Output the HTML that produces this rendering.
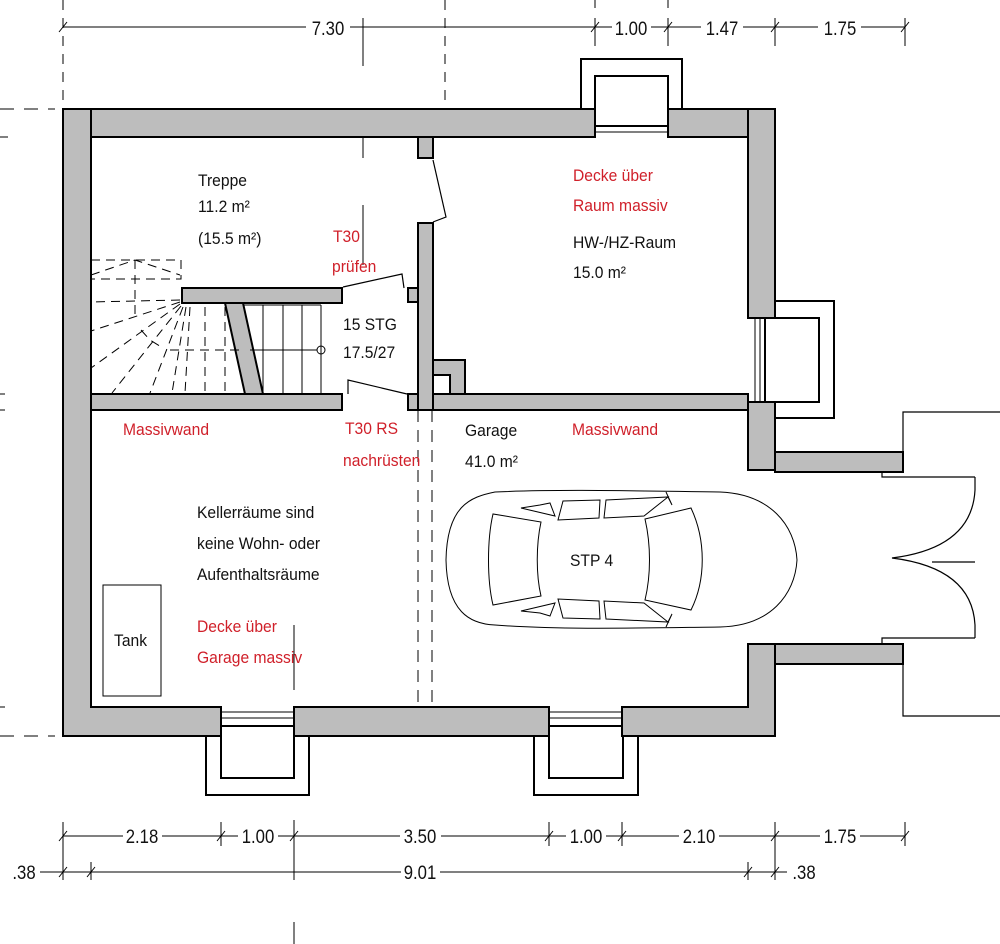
<!DOCTYPE html>
<html><head><meta charset="utf-8"><style>
html,body{margin:0;padding:0;background:#fff;}
svg{display:block;}
text{font-family:"Liberation Sans",sans-serif;font-size:17px;}
.d text{font-size:19px;text-anchor:middle;}
.r{fill:#d0202a;}
.k{fill:#111;}
</style></head><body>
<svg width="1000" height="944" viewBox="0 0 1000 944" xmlns="http://www.w3.org/2000/svg">
<g stroke="#000" stroke-width="1" fill="none">
<line x1="63" y1="0" x2="63" y2="109" stroke-dasharray="10,8"/>
<line x1="445" y1="0" x2="445" y2="109" stroke-dasharray="10,8"/>
<line x1="363" y1="18" x2="363" y2="66"/>
<line x1="363" y1="113" x2="363" y2="158"/>
<line x1="363" y1="205" x2="363" y2="265"/>
<line x1="0" y1="109" x2="55" y2="109" stroke-dasharray="14,10"/>
<line x1="0" y1="736" x2="55" y2="736" stroke-dasharray="14,10"/>
<line x1="0" y1="137" x2="8" y2="137"/>
<line x1="0" y1="394" x2="5" y2="394"/>
<line x1="0" y1="410" x2="5" y2="410"/>
<line x1="0" y1="707" x2="5" y2="707"/>
<line x1="595" y1="0" x2="595" y2="8"/><line x1="668" y1="0" x2="668" y2="8"/>
<line x1="63" y1="27" x2="306" y2="27"/><line x1="350" y1="27" x2="612" y2="27"/>
<line x1="651" y1="27" x2="701" y2="27"/><line x1="743" y1="27" x2="818" y2="27"/><line x1="861" y1="27" x2="905" y2="27"/>
<line x1="595" y1="18" x2="595" y2="46"/><line x1="668" y1="18" x2="668" y2="46"/><line x1="775" y1="18" x2="775" y2="46"/><line x1="905" y1="18" x2="905" y2="46"/>
<line x1="59" y1="32" x2="67" y2="22"/><line x1="591" y1="32" x2="599" y2="22"/><line x1="664" y1="32" x2="672" y2="22"/><line x1="771" y1="32" x2="779" y2="22"/><line x1="901" y1="32" x2="909" y2="22"/>
<line x1="63" y1="836" x2="123" y2="836"/><line x1="162" y1="836" x2="238" y2="836"/><line x1="278" y1="836" x2="400" y2="836"/><line x1="441" y1="836" x2="566" y2="836"/><line x1="606" y1="836" x2="679" y2="836"/><line x1="719" y1="836" x2="820" y2="836"/><line x1="860" y1="836" x2="905" y2="836"/>
<line x1="63" y1="822" x2="63" y2="880"/><line x1="221" y1="822" x2="221" y2="846"/><line x1="294" y1="820" x2="294" y2="880"/><line x1="294" y1="922" x2="294" y2="944"/><line x1="549" y1="822" x2="549" y2="846"/><line x1="622" y1="822" x2="622" y2="846"/><line x1="775" y1="822" x2="775" y2="880"/><line x1="905" y1="822" x2="905" y2="846"/>
<line x1="91" y1="862" x2="91" y2="880"/><line x1="748" y1="862" x2="748" y2="880"/>
<line x1="59" y1="841" x2="67" y2="831"/><line x1="217" y1="841" x2="225" y2="831"/><line x1="290" y1="841" x2="298" y2="831"/><line x1="545" y1="841" x2="553" y2="831"/><line x1="618" y1="841" x2="626" y2="831"/><line x1="771" y1="841" x2="779" y2="831"/><line x1="901" y1="841" x2="909" y2="831"/>
<line x1="59" y1="877" x2="67" y2="867"/><line x1="87" y1="877" x2="95" y2="867"/><line x1="744" y1="877" x2="752" y2="867"/><line x1="771" y1="877" x2="779" y2="867"/>
<line x1="40" y1="872" x2="401" y2="872"/><line x1="440" y1="872" x2="787" y2="872"/>
<line x1="294" y1="625" x2="294" y2="690"/>
<line x1="418" y1="410" x2="418" y2="707" stroke-dasharray="12,8"/>
<line x1="432" y1="410" x2="432" y2="707" stroke-dasharray="12,8"/>
</g>
<g stroke="#000" stroke-width="2" fill="#fff">
<rect x="581" y="59" width="101" height="60"/><rect x="595" y="76" width="73" height="50"/>
<rect x="765" y="301" width="69" height="117"/><rect x="765" y="318" width="54" height="84"/>
<rect x="206" y="726" width="103" height="69"/><rect x="221" y="726" width="73" height="52"/>
<rect x="534" y="726" width="104" height="69"/><rect x="549" y="726" width="74" height="52"/>
</g>
<g fill="#bdbdbd" stroke="#000" stroke-width="2">
<rect x="63" y="109" width="532" height="28"/>
<rect x="668" y="109" width="107" height="28"/>
<rect x="63" y="109" width="28" height="627"/>
<rect x="748" y="109" width="27" height="209"/>
<rect x="748" y="402" width="27" height="68"/>
<rect x="748" y="644" width="27" height="92"/>
<rect x="63" y="707" width="158" height="29"/>
<rect x="294" y="707" width="255" height="29"/>
<rect x="622" y="707" width="153" height="29"/>
<rect x="775" y="452" width="128" height="20"/>
<rect x="775" y="644" width="128" height="20"/>
<rect x="91" y="394" width="251" height="16"/>
<rect x="408" y="394" width="340" height="16"/>
<rect x="418" y="137" width="15" height="21"/>
<rect x="418" y="223" width="15" height="187"/>
<rect x="433" y="360" width="32" height="34"/>
<rect x="408" y="288" width="10" height="14"/>
<rect x="182" y="288" width="160" height="15"/>
<polygon points="225,303 243,303 263,394 245,394"/>
</g>
<g fill="#bdbdbd" stroke="none">
<rect x="64" y="110" width="26" height="30"/><rect x="749" y="110" width="25" height="30"/>
<rect x="64" y="705" width="26" height="30"/><rect x="749" y="705" width="25" height="30"/>
<rect x="92" y="110" width="500" height="26"/><rect x="64" y="140" width="26" height="560"/>
<rect x="92" y="708" width="128" height="27"/><rect x="623" y="708" width="124" height="27"/>
<rect x="749" y="645" width="25" height="90"/><rect x="749" y="453" width="25" height="16"/>
<rect x="419" y="300" width="13" height="108"/><rect x="434" y="361" width="6" height="32"/>
</g>
<rect x="433" y="375" width="17" height="19" fill="#fff" stroke="#000" stroke-width="2"/>
<g stroke="#000" stroke-width="2" fill="none">
<line x1="91" y1="137" x2="91" y2="707"/><line x1="63" y1="109" x2="63" y2="736"/>
<line x1="91" y1="137" x2="418" y2="137"/><line x1="433" y1="137" x2="595" y2="137"/>
<line x1="748" y1="137" x2="748" y2="318"/><line x1="775" y1="109" x2="775" y2="318"/>
<line x1="91" y1="707" x2="221" y2="707"/><line x1="622" y1="707" x2="748" y2="707"/>
<line x1="748" y1="644" x2="748" y2="707"/><line x1="418" y1="223" x2="418" y2="394"/><line x1="433" y1="223" x2="433" y2="360"/>
</g>
<g stroke="#000" stroke-width="1">
<line x1="595" y1="126" x2="668" y2="126"/><line x1="595" y1="132" x2="668" y2="132"/>
<line x1="755" y1="318" x2="755" y2="402"/><line x1="760" y1="318" x2="760" y2="402"/>
<line x1="221" y1="712" x2="294" y2="712"/><line x1="221" y1="718" x2="294" y2="718"/>
<line x1="549" y1="712" x2="622" y2="712"/><line x1="549" y1="718" x2="622" y2="718"/>
</g>
<g stroke="#000" stroke-width="1.2" fill="none">
<polyline points="433,160 446,217 433,222"/>
<polyline points="343,287 402,274 404,288"/>
<polyline points="348,394 348,380 407,394"/>
<polyline points="903,452 903,412 1000,412"/>
<polyline points="903,664 903,716 1000,716"/>
<polyline points="882,472 882,477 975,477"/>
<path d="M975,477 L975,490 Q972,548 892,558 Q972,568 975,625 L975,638"/>
<polyline points="882,644 882,638 975,638"/>
<line x1="932" y1="562" x2="975" y2="562"/>
</g>
<g stroke="#000" stroke-width="1" fill="none">
<line x1="243" y1="305" x2="321" y2="305"/>
<line x1="263" y1="305" x2="263" y2="394"/><line x1="283" y1="305" x2="283" y2="394"/><line x1="302" y1="305" x2="302" y2="394"/><line x1="321" y1="305" x2="321" y2="394"/>
<line x1="250" y1="350" x2="317" y2="350"/>
<circle cx="321" cy="350" r="4"/>
<g stroke-dasharray="9,6">
<rect x="91" y="260" width="90" height="19"/>
<polyline points="91,275 135,260 180,275"/>
<line x1="135" y1="260" x2="135" y2="320"/>
<line x1="180" y1="300" x2="91" y2="302"/>
<line x1="180" y1="302" x2="91" y2="331"/>
<line x1="180" y1="304" x2="91" y2="368"/>
<line x1="181" y1="306" x2="112" y2="393"/>
<line x1="183" y1="307" x2="150" y2="393"/>
<line x1="186" y1="307" x2="172" y2="393"/>
<line x1="190" y1="307" x2="185" y2="393"/>
<line x1="205" y1="307" x2="205" y2="393"/>
<line x1="225" y1="307" x2="225" y2="393"/>
<line x1="170" y1="350" x2="245" y2="350"/>
<polyline points="141,330 150,340 163,348"/>
</g>
</g>
<rect x="103" y="585" width="58" height="111" fill="none" stroke="#000" stroke-width="1"/>
<g stroke="#000" stroke-width="1" fill="none">
<path d="M495,492 C560,489 640,491 720,492 C770,494 795,525 797,560 C795,595 770,626 720,627 C640,628 560,630 495,625 C470,624 447,612 446,560 C447,506 470,497 495,492 Z"/>
<path d="M493,514 C487,540 487,580 493,605 L541,596 C536,575 536,545 541,522 Z"/>
<path d="M645,519 C651,545 651,575 645,600 L691,610 C706,580 706,540 691,508 Z"/>
<path d="M540,505 L550,503 L555,516 L521,508 Z"/>
<path d="M563,501 L600,500 L599,518 L558,520 Z"/>
<path d="M606,500 L668,497 L644,516 L604,518 Z"/>
<path d="M540,613 L550,616 L555,603 L521,611 Z"/>
<path d="M563,618 L600,619 L599,601 L558,599 Z"/>
<path d="M606,619 L668,622 L644,603 L604,601 Z"/>
<path d="M666,492 L672,505 L668,497"/><path d="M666,627 L672,614 L668,622"/>
</g>
<g class="k d">
<text transform="translate(328,35) scale(0.88,1)">7.30</text>
<text transform="translate(631,35) scale(0.88,1)">1.00</text>
<text transform="translate(722,35) scale(0.88,1)">1.47</text>
<text transform="translate(840,35) scale(0.88,1)">1.75</text>
<text transform="translate(142,843) scale(0.88,1)">2.18</text>
<text transform="translate(258,843) scale(0.88,1)">1.00</text>
<text transform="translate(420,843) scale(0.88,1)">3.50</text>
<text transform="translate(586,843) scale(0.88,1)">1.00</text>
<text transform="translate(699,843) scale(0.88,1)">2.10</text>
<text transform="translate(840,843) scale(0.88,1)">1.75</text>
<text transform="translate(24,879) scale(0.88,1)">.38</text>
<text transform="translate(420,879) scale(0.88,1)">9.01</text>
<text transform="translate(804,879) scale(0.88,1)">.38</text>
</g>
<g class="k">
<text transform="translate(198,186) scale(0.92,1)">Treppe</text>
<text transform="translate(198,212) scale(0.92,1)">11.2 m²</text>
<text transform="translate(198,244) scale(0.92,1)">(15.5 m²)</text>
<text transform="translate(343,330) scale(0.92,1)">15 STG</text>
<text transform="translate(343,358) scale(0.92,1)">17.5/27</text>
<text transform="translate(573,248) scale(0.92,1)">HW-/HZ-Raum</text>
<text transform="translate(573,278) scale(0.92,1)">15.0 m²</text>
<text transform="translate(465,436) scale(0.92,1)">Garage</text>
<text transform="translate(465,467) scale(0.92,1)">41.0 m²</text>
<text transform="translate(197,518) scale(0.92,1)">Kellerräume sind</text>
<text transform="translate(197,549) scale(0.92,1)">keine Wohn- oder</text>
<text transform="translate(197,580) scale(0.92,1)">Aufenthaltsräume</text>
<text transform="translate(114,646) scale(0.92,1)">Tank</text>
<text transform="translate(570,566) scale(0.92,1)">STP 4</text>
</g>
<g class="r">
<text transform="translate(333,242) scale(0.92,1)">T30</text>
<text transform="translate(332,272) scale(0.92,1)">prüfen</text>
<text transform="translate(573,181) scale(0.92,1)">Decke über</text>
<text transform="translate(573,211) scale(0.92,1)">Raum massiv</text>
<text transform="translate(123,435) scale(0.92,1)">Massivwand</text>
<text transform="translate(345,434) scale(0.92,1)">T30 RS</text>
<text transform="translate(343,466) scale(0.92,1)">nachrüsten</text>
<text transform="translate(572,435) scale(0.92,1)">Massivwand</text>
<text transform="translate(197,632) scale(0.92,1)">Decke über</text>
<text transform="translate(197,663) scale(0.92,1)">Garage massiv</text>
</g>
</svg>
</body></html>
